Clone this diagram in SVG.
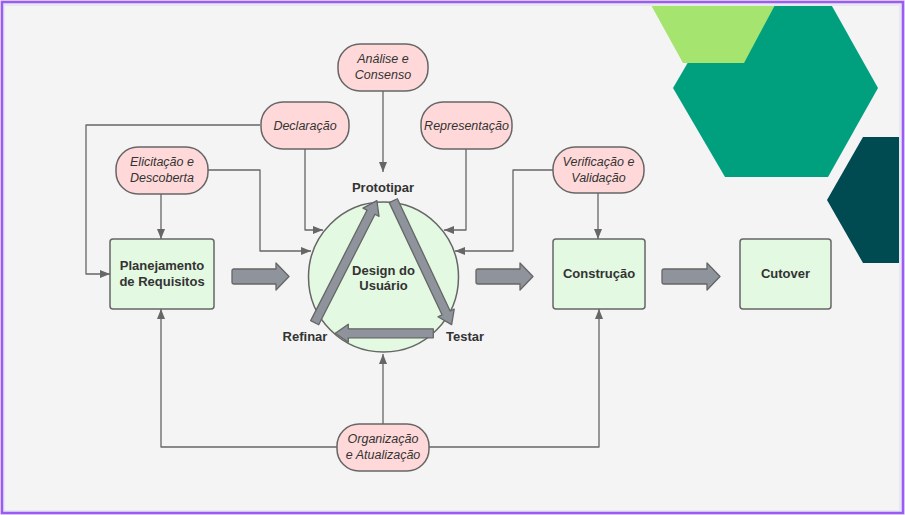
<svg xmlns="http://www.w3.org/2000/svg" width="905" height="515" viewBox="0 0 905 515">
<style>
.pill{fill:#FFD9D9;stroke:#666;stroke-width:1.5}
.box{fill:#E3F9E1;stroke:#666;stroke-width:1.5}
.it{font-family:"Liberation Sans",Arial,sans-serif;font-size:12.5px;font-style:italic;fill:#333;text-anchor:middle}
.bd{font-family:"Liberation Sans",Arial,sans-serif;font-size:13px;font-weight:bold;fill:#333;text-anchor:middle}
.con{fill:none;stroke:#666;stroke-width:1.3;stroke-linejoin:round}
.blk{fill:#8E939C;stroke:#666;stroke-width:1.3;stroke-linejoin:round}
</style>
<defs>
<clipPath id="clip"><rect x="5" y="6" width="894" height="504"/></clipPath>
<marker id="ah" markerUnits="userSpaceOnUse" markerWidth="10" markerHeight="10" viewBox="0 0 10 10" refX="10" refY="5" orient="auto">
<path d="M0,1 L10,5 L0,9 Z" fill="#666"/>
</marker>
</defs>
<rect x="0" y="0" width="905" height="515" fill="#e8e8ee"/>
<rect x="5" y="6" width="894" height="504" fill="#f4f4f4"/>
<rect x="2" y="2" width="901" height="511" fill="none" stroke="#9A5CF5" stroke-width="2.5"/>
<g id="decor" clip-path="url(#clip)">
<polygon points="673,88 725,-1 828,-1 878,88 828,177 725,177" fill="#00A07F"/>
<polygon points="651,5 775,5 744,63 683,63" fill="#A5E46F"/>
<polygon points="827,200 863,137 899,137 899,263 863,263" fill="#004A52"/>
</g>
<g id="connectors">
<path class="con" d="M383,90 V172" marker-end="url(#ah)"/>
<path class="con" d="M305,148 V230 H323" marker-end="url(#ah)"/>
<path class="con" d="M207,170 H260 V251 H311" marker-end="url(#ah)"/>
<path class="con" d="M260,125 H86 V274 H110" marker-end="url(#ah)"/>
<path class="con" d="M161,194 V239" marker-end="url(#ah)"/>
<path class="con" d="M466,148 V230 H444" marker-end="url(#ah)"/>
<path class="con" d="M553,170 H513 V251 H455" marker-end="url(#ah)"/>
<path class="con" d="M598,193 V239" marker-end="url(#ah)"/>
<path class="con" d="M383,424 V354" marker-end="url(#ah)"/>
<path class="con" d="M337,447 H161 V309" marker-end="url(#ah)"/>
<path class="con" d="M429,447 H599 V309" marker-end="url(#ah)"/>
<path class="blk" d="M234,269 H276 V263 L289,276.5 L276,290 V284 H234 Q232,284 232,282 V271 Q232,269 234,269 Z"/>
<path class="blk" d="M478,269 H520 V263 L533,276.5 L520,290 V284 H478 Q476,284 476,282 V271 Q476,269 478,269 Z"/>
<path class="blk" d="M664,269 H707 V263 L720,276.5 L707,290 V284 H664 Q662,284 662,282 V271 Q662,269 664,269 Z"/>
</g>
<g id="design">
<circle cx="383.5" cy="277" r="75" class="box"/>
<text class="bd" x="383.5" y="274.5">Design do</text>
<text class="bd" x="383.5" y="290">Usuário</text>
<g id="cycle">
<path class="blk" transform="translate(314.7,322.7) rotate(-63)" d="M0,-4.5 H124 V-9 L137,0 L124,9 V4.5 H0 Z"/>
<path class="blk" transform="translate(393.3,200.7) rotate(64.8)" d="M0,-4.5 H124 V-9 L137,0 L124,9 V4.5 H0 Z"/>
<path class="blk" transform="translate(433.3,333.3) rotate(180)" d="M0,-4.5 H85 V-9 L98,0 L85,9 V4.5 H0 Z"/>
</g>
<text class="bd" x="383" y="192">Prototipar</text>
<text class="bd" x="305" y="340.5">Refinar</text>
<text class="bd" x="465" y="340.5">Testar</text>
</g>
<g id="analise"><rect class="pill" x="338" y="44" width="90" height="47" rx="22"/><text class="it" x="383" y="63">Análise e</text><text class="it" x="383" y="79">Consenso</text></g>
<g id="declaracao"><rect class="pill" x="261" y="102" width="88" height="47" rx="22"/><text class="it" x="305" y="130">Declaração</text></g>
<g id="representacao"><rect class="pill" x="421" y="102" width="91" height="47" rx="22"/><text class="it" x="466.5" y="130">Representação</text></g>
<g id="elicitacao"><rect class="pill" x="116" y="147" width="92" height="47" rx="22"/><text class="it" x="162" y="166">Elicitação e</text><text class="it" x="162" y="182">Descoberta</text></g>
<g id="verificacao"><rect class="pill" x="553" y="147" width="91" height="46" rx="22"/><text class="it" x="598.5" y="166">Verificação e</text><text class="it" x="598.5" y="182">Validação</text></g>
<g id="organizacao"><rect class="pill" x="337" y="424" width="92" height="47" rx="22"/><text class="it" x="383" y="443">Organização</text><text class="it" x="383" y="459">e Atualização</text></g>
<g id="planejamento"><rect class="box" x="110" y="239" width="104" height="70" rx="3"/><text class="bd" x="162" y="270">Planejamento</text><text class="bd" x="162" y="285.5">de Requisitos</text></g>
<g id="construcao"><rect class="box" x="553" y="239" width="92" height="70" rx="3"/><text class="bd" x="599" y="278">Construção</text></g>
<g id="cutover"><rect class="box" x="740" y="239" width="91" height="70" rx="3"/><text class="bd" x="785.5" y="278">Cutover</text></g>
</svg>
